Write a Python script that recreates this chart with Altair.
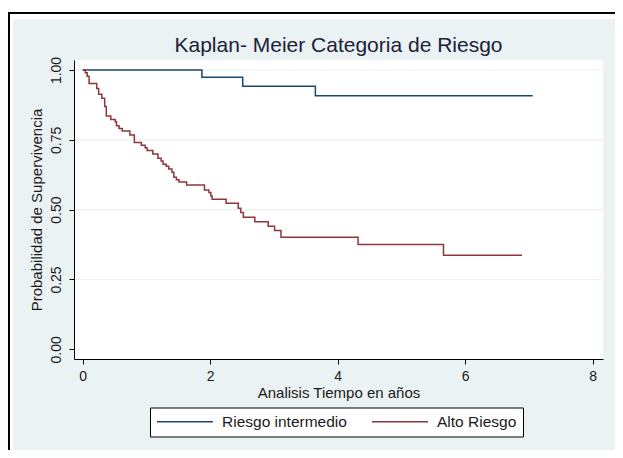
import altair as alt
import pandas as pd

title_text = "Kaplan- Meier Categoria de Riesgo"
x_title = "Analisis Tiempo en años"
y_title = "Probabilidad de Supervivencia"
groups = ["Riesgo intermedio", "Alto Riesgo"]
colors = ["#1a476f", "#90353b"]

# Riesgo intermedio (step times and survival after each step)
blue_t = [0.0, 1.87, 2.51, 3.65, 7.06]
blue_s = [1.0, 0.974, 0.942, 0.908, 0.908]

# Alto Riesgo
red_t = [0.0, 0.04, 0.07, 0.10, 0.22, 0.25, 0.30, 0.345, 0.37, 0.44, 0.51, 0.53,
         0.57, 0.62, 0.74, 0.81, 0.92, 0.98, 1.01, 1.10, 1.18, 1.23, 1.26, 1.31,
         1.35, 1.40, 1.43, 1.47, 1.51, 1.63, 1.91, 1.98, 2.01, 2.03, 2.25, 2.44,
         2.48, 2.52, 2.70, 2.91, 3.01, 3.11, 4.32, 5.66, 6.89]
red_s = [1.0, 0.990, 0.978, 0.952, 0.934, 0.913, 0.899, 0.869, 0.835, 0.823, 0.815, 0.800,
         0.791, 0.782, 0.767, 0.740, 0.731, 0.722, 0.712, 0.699, 0.684, 0.674, 0.663, 0.655,
         0.646, 0.634, 0.616, 0.607, 0.599, 0.588, 0.570, 0.561, 0.549, 0.537, 0.523, 0.505,
         0.490, 0.473, 0.457, 0.441, 0.425, 0.401, 0.375, 0.337, 0.337]

x_ticks = [0, 2, 4, 6, 8]
y_ticks = [0, 0.25, 0.5, 0.75, 1.0]
y_grid = [0.25, 0.5, 0.75, 1.0]

df = pd.DataFrame({
    "t": blue_t + red_t,
    "s": blue_s + red_s,
    "grupo": [groups[0]] * len(blue_t) + [groups[1]] * len(red_t),
})
grid_df = pd.DataFrame({"g": y_grid})
one = pd.DataFrame({"k": [0]})
title_df = pd.DataFrame({"titulo": [title_text]})

FONT = "Liberation Sans"
TXT = "#1a1a1a"
BG = "#EAF2F3"
W, H = 529, 299
PAD = {"left": 66, "top": 52, "right": 12, "bottom": 91}
RIGHT = W + PAD["right"]
BOTTOM = H + PAD["bottom"]

xscale = alt.Scale(domain=[-0.1365, 8.162], nice=False, zero=False)
yscale = alt.Scale(domain=[-0.0347, 1.0358], nice=False, zero=False)

yaxis = alt.Axis(values=y_ticks, format=".2f", labelAngle=270, title=y_title,
                 grid=False, tickSize=5, labelPadding=6, titlePadding=5, zindex=2)
xaxis = alt.Axis(values=x_ticks, format="d", title=x_title, grid=False,
                 tickSize=5, labelPadding=5, titlePadding=2, labelAngle=0, zindex=2)

frame_left = alt.Chart(one).mark_rule(color="black", strokeWidth=2).encode(
    x=alt.value(-65), y=alt.value(-48), y2=alt.value(BOTTOM))
frame_top = alt.Chart(one).mark_rule(color="black", strokeWidth=2).encode(
    x=alt.value(-66), x2=alt.value(RIGHT), y=alt.value(-47))
panel = alt.Chart(one).mark_rect(fill=BG).encode(
    x=alt.value(-61), x2=alt.value(RIGHT), y=alt.value(-41), y2=alt.value(BOTTOM))
plotbg = alt.Chart(one).mark_rect(fill="white").encode(
    x=alt.value(0), x2=alt.value(W), y=alt.value(0), y2=alt.value(H))

title = alt.Chart(title_df).mark_text(
    font=FONT, fontSize=21, color="#20203a", align="center", baseline="alphabetic"
).encode(text="titulo:N", x=alt.value(W / 2), y=alt.value(-7.7))

grid = alt.Chart(grid_df).mark_rule(color=BG, strokeWidth=1.2).encode(
    y=alt.Y("g:Q", scale=yscale, axis=yaxis))

lines = alt.Chart(df).mark_line(interpolate="step-after", strokeWidth=1.5).encode(
    x=alt.X("t:Q", scale=xscale, axis=xaxis),
    y=alt.Y("s:Q", scale=yscale, axis=yaxis),
    color=alt.Color("grupo:N", scale=alt.Scale(domain=groups, range=colors),
                    legend=alt.Legend(orient="none", legendX=76, legendY=347.5,
                                      direction="horizontal", symbolType="M-1,0H7",
                                      symbolSize=196, symbolStrokeWidth=1.5,
                                      labelFontSize=15.5, labelFont=FONT, labelColor=TXT,
                                      strokeColor="black", fillColor="white",
                                      padding=6, columnPadding=22, labelOffset=50,
                                      title=None, zindex=2)),
    detail="grupo:N",
)

chart = alt.layer(frame_left, frame_top, panel, plotbg, grid, lines, title).properties(
    width=W, height=H,
    autosize=alt.AutoSizeParams(type="none"),
    padding=PAD,
    background="white",
).configure_view(stroke=None, fill=None).configure_axis(
    domainColor="black", tickColor="black", domainWidth=1, tickWidth=1,
    labelFont=FONT, titleFont=FONT, labelFontSize=14, titleFontSize=15,
    labelColor=TXT, titleColor=TXT, titleFontWeight="normal",
)

chart.save("out.html", embed_options={"renderer": "svg", "actions": False})
